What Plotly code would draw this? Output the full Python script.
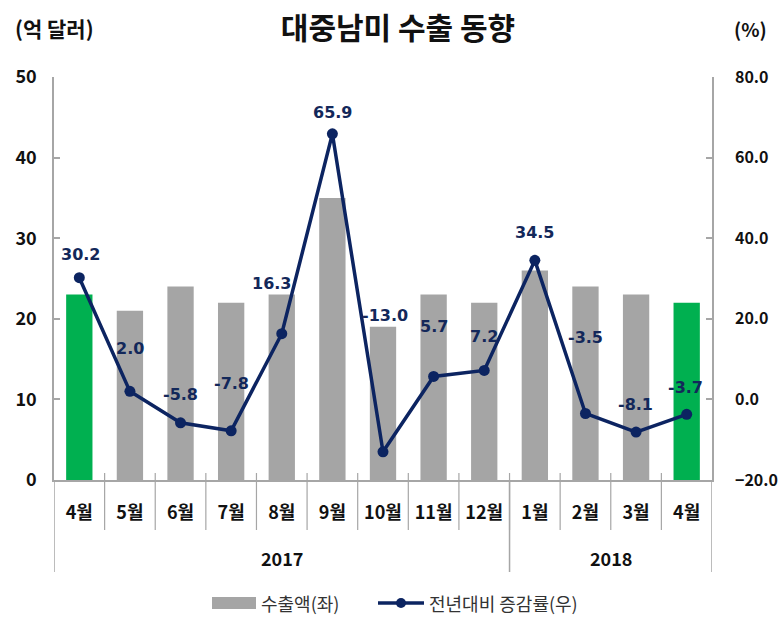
import plotly.graph_objects as go

# ---- data ----
months = ["4월", "5월", "6월", "7월", "8월", "9월", "10월", "11월", "12월", "1월", "2월", "3월", "4월"]
years = ["2017"] * 9 + ["2018"] * 4
exports = [23, 21, 24, 22, 23, 35, 19, 23, 22, 26, 24, 23, 22]          # 억 달러 (left axis)
growth = [30.2, 2.0, -5.8, -7.8, 16.3, 65.9, -13.0, 5.7, 7.2, 34.5, -3.5, -8.1, -3.7]  # % (right axis)
highlight = [True] + [False] * 11 + [True]

left_ticks = [0, 10, 20, 30, 40, 50]
right_ticks = [-20, 0, 20, 40, 60, 80]

# label offsets (pixels) for value labels
label_yshift = [23, 43, 28, 47, 50, 21, 136, 50, 34, 28, 76, 28, 27]
label_xshift = [1, 0, 0, 0, -10, 0, 2, 0, 0, 0, 0, -1, -1]

# ---- styles ----
W, H = 779, 633
PL, PR, PT, PB = 54, 712, 77, 480   # plot area in window pixels
ML, MT = PL, PT
PW, PH = PR - PL, PB - PT
MR, MB = W - ML - PW, H - MT - PH
GRAY = "#A5A5A5"
GREEN = "#00B050"
NAVY = "#0C2461"
AXIS = "#A6A6A6"
KFONT = "Noto Sans CJK KR"


def px_x(px):
    return (px - PL) / PW


def px_y(py):
    return (PB - py) / PH


x_idx = list(range(len(months)))

fig = go.Figure()
fig.add_trace(go.Bar(
    x=x_idx, y=exports, width=0.52,
    marker=dict(color=[GREEN if h else GRAY for h in highlight], line=dict(width=0)),
    name="수출액(좌)", showlegend=False, yaxis="y",
))
fig.add_trace(go.Scatter(
    x=x_idx, y=growth, mode="lines+markers",
    line=dict(color=NAVY, width=3.5),
    marker=dict(color=NAVY, size=11),
    name="전년대비 증감률(우)", showlegend=False, yaxis="y2",
))

annotations = []
for i, v in enumerate(growth):
    annotations.append(dict(
        x=x_idx[i], y=v, xref="x", yref="y2", text=f"{v:.1f}", showarrow=False,
        xanchor="center", yanchor="middle",
        yshift=label_yshift[i], xshift=label_xshift[i],
        font=dict(family="DejaVu Sans", size=16, color="#13285A", weight="bold"),
    ))

# year labels, centred under their month groups
for yr in sorted(set(years)):
    idx = [i for i, y in enumerate(years) if y == yr]
    annotations.append(dict(
        x=sum(idx) / len(idx), y=px_y(558), xref="x", yref="paper", text=yr,
        showarrow=False, xanchor="center", yanchor="middle",
        font=dict(family=KFONT, size=18, color="#111111", weight="bold"),
    ))

annotations += [
    dict(x=px_x(54), y=px_y(28), xref="paper", yref="paper", text="(억 달러)", showarrow=False,
         xanchor="center", yanchor="middle",
         font=dict(family=KFONT, size=21, color="#111111", weight="bold")),
    dict(x=px_x(750), y=px_y(28), xref="paper", yref="paper", text="(%)", showarrow=False,
         xanchor="center", yanchor="middle",
         font=dict(family=KFONT, size=19, color="#111111", weight="bold")),
]

shapes = []
# month separators
for k in range(len(months) - 1):
    shapes.append(dict(type="line", xref="x", yref="paper", x0=k + 0.5, x1=k + 0.5,
                       y0=px_y(473), y1=px_y(530), line=dict(color=AXIS, width=1.2)))
# year dividers (incl. outer edges)
bounds = [-0.5] + [i + 0.5 for i in range(len(years) - 1) if years[i] != years[i + 1]] + [len(years) - 0.5]
for b in bounds:
    shapes.append(dict(type="line", xref="x", yref="paper", x0=b, x1=b,
                       y0=0, y1=px_y(572), line=dict(color=AXIS, width=1.5)))

# custom legend
LY = 603
shapes.append(dict(type="rect", xref="paper", yref="paper", x0=px_x(212), x1=px_x(256),
                   y0=px_y(609), y1=px_y(597), fillcolor=GRAY, line=dict(width=0)))
shapes.append(dict(type="line", xref="paper", yref="paper", x0=px_x(378), x1=px_x(424),
                   y0=px_y(LY), y1=px_y(LY), line=dict(color=NAVY, width=3.5)))
shapes.append(dict(type="circle", xref="paper", yref="paper", x0=px_x(396), x1=px_x(406),
                   y0=px_y(608), y1=px_y(598), fillcolor=NAVY, line=dict(width=0)))
annotations += [
    dict(x=px_x(259), y=px_y(LY), xref="paper", yref="paper", text="수출액(좌)", showarrow=False,
         xanchor="left", yanchor="middle", font=dict(family=KFONT, size=18, color="#333333")),
    dict(x=px_x(427), y=px_y(LY), xref="paper", yref="paper", text="전년대비 증감률(우)", showarrow=False,
         xanchor="left", yanchor="middle", font=dict(family=KFONT, size=18, color="#333333")),
]

fig.update_layout(
    width=W, height=H, autosize=False,
    margin=dict(l=ML, r=MR, t=MT, b=MB, pad=0, autoexpand=False),
    paper_bgcolor="white", plot_bgcolor="white",
    showlegend=False,
    title=dict(text="대중남미 수출 동향", x=398 / W, xanchor="center",
               y=1 - 28 / H, yanchor="middle", automargin=False,
               font=dict(family=KFONT, size=30, color="#111111", weight="bold")),
    xaxis=dict(
        range=[-0.5, len(months) - 0.5], tickvals=x_idx, ticktext=months, automargin=False,
        showgrid=False, zeroline=False, showline=True, linecolor=AXIS, linewidth=1.5,
        ticks="", ticklabelstandoff=16,
        tickfont=dict(family=KFONT, size=18, color="#111111", weight="bold"),
    ),
    yaxis=dict(
        range=[0, 50], tickvals=left_ticks, showgrid=False, zeroline=False, automargin=False,
        showline=True, linecolor=AXIS, linewidth=1.5,
        ticks="inside", ticklen=6, tickcolor=AXIS, tickwidth=1.5, ticklabelstandoff=12,
        tickfont=dict(family=KFONT, size=18, color="#111111", weight="bold"),
    ),
    yaxis2=dict(
        range=[-20, 80], tickvals=right_ticks, tickformat=".1f", overlaying="y", side="right",
        showgrid=False, zeroline=False, showline=True, linecolor=AXIS, linewidth=1.5, automargin=False,
        ticks="inside", ticklen=6, tickcolor=AXIS, tickwidth=1.5, ticklabelstandoff=18,
        tickfont=dict(family=KFONT, size=16, color="#111111", weight="bold"),
    ),
    annotations=annotations,
    shapes=shapes,
)

fig.write_html(
    "out.html",
    config={"displayModeBar": False},
    post_script="document.body.style.margin='0px';document.body.style.overflow='hidden';",
)
